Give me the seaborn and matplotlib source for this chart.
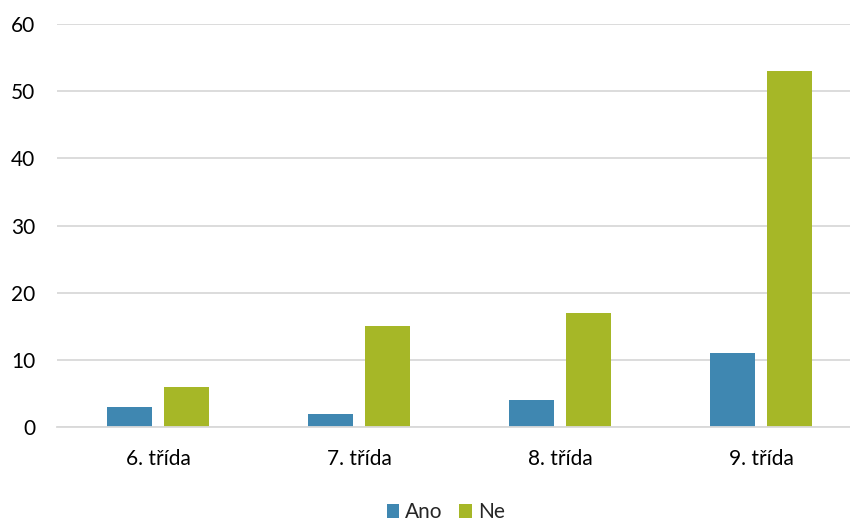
import seaborn as sns
import pandas as pd
import matplotlib.pyplot as plt

# data
categories = ["6. třída", "7. třída", "8. třída", "9. třída"]
ano = [3, 2, 4, 11]
ne = [6, 15, 17, 53]
series_names = ["Ano", "Ne"]
colors = ["#3F87B1", "#A6B727"]

df = pd.DataFrame({
    "trida": categories * 2,
    "odpoved": [series_names[0]] * len(ano) + [series_names[1]] * len(ne),
    "pocet": ano + ne,
})

sns.set_theme(style="white")
plt.rcParams['font.family'] = ['Lato', 'DejaVu Sans']

fig = plt.figure(figsize=(8.5, 5.21), dpi=100)
# plot area runs past the right edge, as in the reference
ax = fig.add_axes([0.0676, 0.180, 0.946, 0.774])

sns.barplot(data=df, x="trida", y="pocet", hue="odpoved", palette=colors,
            width=0.568, gap=0.2, ax=ax, saturation=1, edgecolor="none")

ax.set_ylim(0, 60)
ax.set_yticks(range(0, 61, 10))
ax.yaxis.grid(True, color="#D9D9D9", linewidth=1.3)
ax.set_axisbelow(True)
for s in ["top", "right", "left"]:
    ax.spines[s].set_visible(False)
ax.spines["bottom"].set_color("#D9D9D9")
ax.spines["bottom"].set_linewidth(1.3)
ax.set_xlabel("")
ax.set_ylabel("")
ax.tick_params(axis="both", length=0, labelsize=15, colors="#000000")
ax.tick_params(axis="x", pad=16)
ax.tick_params(axis="y", pad=16)

ax.legend(loc="upper center", bbox_to_anchor=(0.483, -0.14), ncol=2, frameon=False,
          fontsize=15, handlelength=0.6, handleheight=0.6, handletextpad=0.3,
          columnspacing=0.8)

plt.savefig("out.png", dpi=100)
